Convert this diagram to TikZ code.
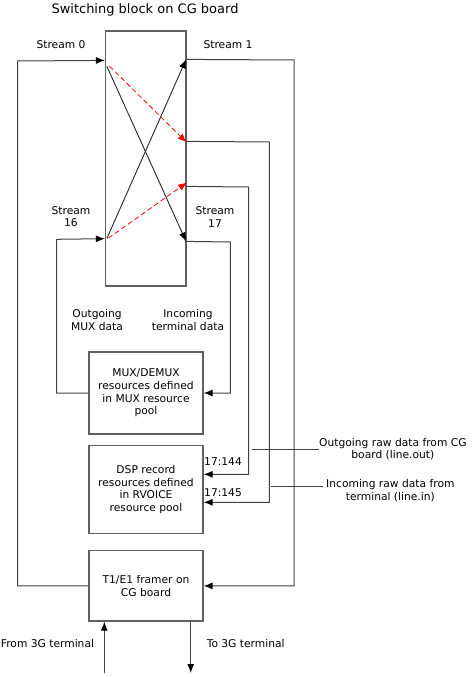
\documentclass[tikz,border=0pt]{standalone}
\usepackage{fontspec}
\setmainfont{DejaVu Sans}
\usetikzlibrary{arrows.meta,calc}
\definecolor{lgray}{HTML}{404040}
\definecolor{bgray}{HTML}{606060}
\begin{document}
\begin{tikzpicture}[x=1pt,y=-1pt,
  lbl/.style={font=\fontsize{10.7}{12.7}\selectfont, align=center, inner sep=0pt},
  box/.style={draw=bgray, line width=1.2pt, inner sep=0pt, lbl},
  conn/.style={draw=lgray, line width=1pt},
  arr/.style={conn, -{Latex[length=9pt,width=7pt,color=black]}},
  xarr/.style={draw=black!85, line width=0.9pt, -{Latex[length=9pt,width=7pt,color=black]}},
  rarr/.style={draw=red, line width=0.8pt, dash pattern=on 5pt off 3pt, -{Latex[length=9pt,width=7pt]}}]
\useasboundingbox (0,0) rectangle (472,677);
% title
\node[font=\fontsize{13}{15}\selectfont, inner sep=0pt] (title) at (145,10) {Switching block on CG board};
% boxes
\node[box, minimum width=80.5pt, minimum height=255pt] (sw) at (145.75,158.5) {};
\node[box, minimum width=114pt, minimum height=82pt] (mux) at (146,393) {MUX/DEMUX\\resources defined\\in MUX resource\\pool};
\node[box, minimum width=114pt, minimum height=88pt] (dsp) at (146,489.4) {DSP record\\resources defined\\in RVOICE\\resource pool};
\node[box, minimum width=114pt, minimum height=70.3pt] (t1) at (146,585.9) {T1/E1 framer on\\CG board};
% labels
\node[lbl] (ls0) at (61,44.7) {Stream 0};
\node[lbl] (ls1) at (228,44.7) {Stream 1};
\node[lbl] (ls16) at (71,216.7) {Stream\\16};
\node[lbl] (ls17) at (215,216.7) {Stream\\17};
\node[lbl] (lout) at (97,320.3) {Outgoing\\MUX data};
\node[lbl] (lin) at (188,320.3) {Incoming\\terminal data};
\node[lbl, anchor=west] (l144) at (204,461.7) {17:144};
\node[lbl, anchor=west] (l145) at (204,492.3) {17:145};
\node[lbl] (lfrom) at (47.5,644) {From 3G terminal};
\node[lbl] (lto) at (245.7,644) {To 3G terminal};
\node[lbl, anchor=west] (lrawout) at (319,449) {Outgoing raw data from CG\\board (line.out)};
\node[lbl, anchor=north west] (lrawin) at (326,479.5) {Incoming raw data from\\terminal (line.in)};
% coordinates for free ends
\coordinate (fromS) at (104.3,673);
\coordinate (toE) at (190.7,673);
\coordinate (rawoutA) at (251.7,449);
\coordinate (rawinA) at (270.7,486);
% stream 0 loop
\draw[arr] (t1.west) -- (17.7,585.9) -- (17.7,61) -- ($(sw.north west)+(0,30)$);
% stream 1 loop
\draw[arr] ($(sw.north east)+(0,29)$) -- (294,60) -- (294,585.9) -- (t1.east);
% crossing
\draw[xarr] ($(sw.north west)+(2,36)$) -- ($(sw.north east)+(-0.5,211)$);
\draw[xarr] ($(sw.north west)+(2,208)$) -- ($(sw.north east)+(-0.5,29)$);
% red dashed
\draw[rarr] ($(sw.north west)+(4.5,35.7)$) -- ($(sw.north east)+(0,112)$);
\draw[rarr] ($(sw.north west)+(3.5,207.7)$) -- ($(sw.north east)+(0.5,152)$);
% to DSP 17:145
\draw[arr] ($(sw.north east)+(0,111)$) -- (269.3,142) -- (269.3,502.3) -- ($(dsp.east)+(0,12.9)$);
% to DSP 17:144
\draw[arr] ($(sw.north east)+(0,156)$) -- (248.5,187) -- (248.5,474.3) -- ($(dsp.east)+(0,-15.1)$);
% stream 17
\draw[arr] ($(sw.north east)+(0,211)$) -- (230.3,242) -- (230.3,393) -- (mux.east);
% stream 16
\draw[arr] (mux.west) -- (56.7,393) -- (56.7,239.3) -- ($(sw.north west)+(0,208.3)$);
% 3G terminal
\draw[arr] (fromS) -- (fromS |- t1.south);
\draw[arr] (toE |- t1.south) -- (toE);
% raw data pointers
\draw[conn] (rawoutA) -- (lrawout.west);
\draw[conn] (rawinA) -- (323,486);
\end{tikzpicture}
\end{document}
